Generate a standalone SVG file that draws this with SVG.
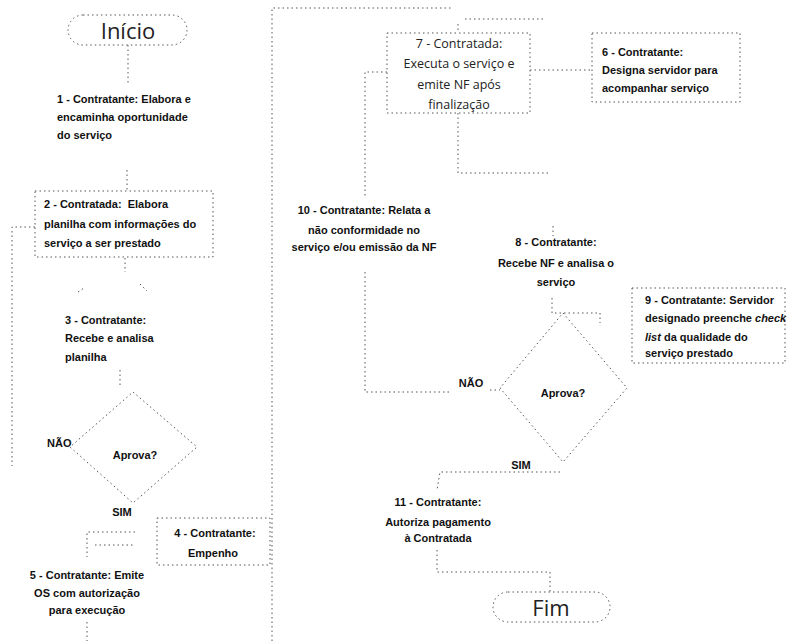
<svg xmlns="http://www.w3.org/2000/svg" width="795" height="641" viewBox="0 0 795 641">
<style>
.bg{fill:#fff}
.sh{fill:none;stroke:#555;stroke-width:1;stroke-dasharray:1.5 3}
.ln{fill:none;stroke:#555;stroke-width:1;stroke-dasharray:1.5 3}
.t{font-family:"Liberation Sans",Arial,sans-serif;font-size:11px;font-weight:bold;fill:#111}
.tl{font-family:"Open Sans","Liberation Sans",sans-serif;font-size:12.5px;fill:#222}
.big{font-family:"Open Sans","Liberation Sans",sans-serif;font-size:22px;fill:#222;text-anchor:middle}
.c{text-anchor:middle}
</style>
<rect class="bg" x="0" y="0" width="795" height="641"/>
<g id="connectors">
<path class="ln" d="M128,45 V85"/>
<path class="ln" d="M127,170 V190"/>
<path class="ln" d="M125,258 V272"/>
<path class="ln" d="M78,292 L84,288 M140,284 L147,291"/>
<path class="ln" d="M35,227 H12 V466"/>
<path class="ln" d="M120,370 V386"/>
<path class="ln" d="M135,532 H87 V557 M95,545 H135"/>
<path class="ln" d="M87,622 V641"/>
<path class="ln" d="M272,641 V8 H452"/>
<path class="ln" d="M465,19 H543 M458,24 V33"/>
<path class="ln" d="M387,72 H365 V197 M365,272 V392 H452 M490,390 H500"/>
<path class="ln" d="M530,70 H592"/>
<path class="ln" d="M458,113 V173 H550 M553,226 V236"/>
<path class="ln" d="M552,298 V313 H600 V323"/>
<path class="ln" d="M560,472 H440 L437,490"/>
<path class="ln" d="M437,550 V572 H550 V592"/>
</g>
<g id="inicio">
<rect class="sh" x="68" y="15" width="119" height="30" rx="15"/>
<text class="big" x="128" y="39">Início</text>
</g>
<g id="n1">
<text class="t" x="57" y="103">1 - Contratante: Elabora e</text>
<text class="t" x="57" y="121">encaminha oportunidade</text>
<text class="t" x="57" y="139">do serviço</text>
</g>
<g id="n2">
<rect class="sh" x="35" y="191" width="178" height="66"/>
<text class="t" x="44" y="208" xml:space="preserve">2 - Contratada:  Elabora</text>
<text class="t" x="44" y="228">planilha com informações do</text>
<text class="t" x="44" y="247">serviço a ser prestado</text>
</g>
<g id="n3">
<text class="t" x="65" y="324">3 - Contratante:</text>
<text class="t" x="65" y="342">Recebe e analisa</text>
<text class="t" x="65" y="361">planilha</text>
</g>
<g id="d1">
<polygon class="sh" points="133,392 197,447 133,503 70,447"/>
<text class="t c" x="135" y="459">Aprova?</text>
<text class="t" x="47" y="447">NÃO</text>
<text class="t c" x="122" y="516">SIM</text>
</g>
<g id="n4">
<rect class="sh" x="157" y="518" width="113" height="47"/>
<text class="t c" x="215" y="537">4 - Contratante:</text>
<text class="t c" x="213" y="557">Empenho</text>
</g>
<g id="n5">
<text class="t c" x="87" y="579">5 - Contratante: Emite</text>
<text class="t c" x="87" y="597">OS com autorização</text>
<text class="t c" x="87" y="614">para execução</text>
</g>
<g id="n7">
<rect class="sh" x="387" y="33" width="143" height="80"/>
<text class="tl c" x="459" y="48">7 - Contratada:</text>
<text class="tl c" x="459" y="68">Executa o serviço e</text>
<text class="tl c" x="459" y="89">emite NF após</text>
<text class="tl c" x="459" y="109">finalização</text>
</g>
<g id="n6">
<rect class="sh" x="592" y="33" width="148" height="69"/>
<text class="t" x="602" y="56">6 - Contratante:</text>
<text class="t" x="602" y="74">Designa servidor para</text>
<text class="t" x="602" y="92">acompanhar serviço</text>
</g>
<g id="n10">
<text class="t c" x="364" y="214">10 - Contratante: Relata a</text>
<text class="t c" x="364" y="234">não conformidade no</text>
<text class="t c" x="364" y="251">serviço e/ou emissão da NF</text>
</g>
<g id="n8">
<text class="t c" x="556" y="246">8 - Contratante:</text>
<text class="t c" x="556" y="267">Recebe NF e analisa o</text>
<text class="t c" x="556" y="286">serviço</text>
</g>
<g id="n9">
<rect class="sh" x="632" y="288" width="153" height="75"/>
<text class="t" x="645" y="304">9 - Contratante: Servidor</text>
<text class="t" x="645" y="322">designado preenche <tspan font-style="italic">check</tspan></text>
<text class="t" x="645" y="341"><tspan font-style="italic">list</tspan> da qualidade do</text>
<text class="t" x="645" y="357">serviço prestado</text>
</g>
<g id="d2">
<polygon class="sh" points="563,313 627,388 563,462 500,388"/>
<text class="t c" x="563" y="397">Aprova?</text>
<text class="t c" x="471" y="387">NÃO</text>
<text class="t c" x="521" y="469">SIM</text>
</g>
<g id="n11">
<text class="t c" x="438" y="506">11 - Contratante:</text>
<text class="t c" x="438" y="526">Autoriza pagamento</text>
<text class="t c" x="438" y="542">à Contratada</text>
</g>
<g id="fim">
<rect class="sh" x="493" y="592" width="117" height="30" rx="15"/>
<text class="big" x="551" y="616">Fim</text>
</g>
</svg>
